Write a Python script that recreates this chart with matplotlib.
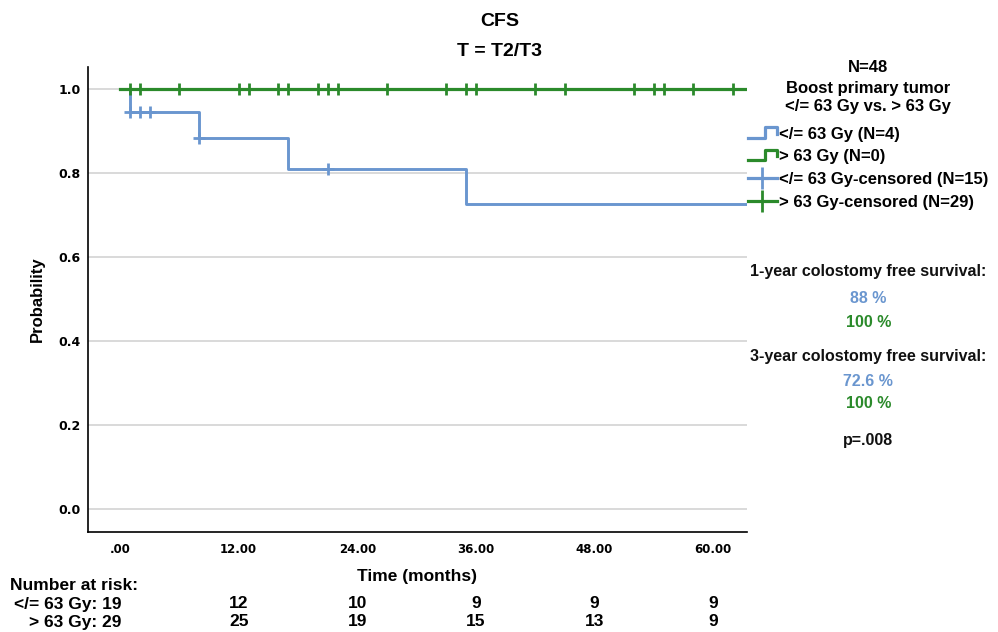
import matplotlib
matplotlib.use("Agg")
import matplotlib.pyplot as plt
from matplotlib.lines import Line2D
from matplotlib.legend_handler import HandlerBase
from matplotlib.transforms import blended_transform_factory

# ---- data ----
blue_times = [0, 1, 8, 17, 35, 63.4]
blue_surv = [1.0, 0.947, 0.884, 0.810, 0.726, 0.726]
blue_cens_t = [1, 2, 3, 8, 21]
blue_cens_s = [0.947, 0.947, 0.947, 0.884, 0.810]

green_times = [0, 63.4]
green_surv = [1.0, 1.0]
green_cens_t = [1, 2, 6, 12, 13, 16, 17, 20, 21, 22, 27, 33, 35, 36,
                42, 45, 52, 54, 55, 58, 62]
green_cens_s = [1.0] * len(green_cens_t)

xticks = [0, 12, 24, 36, 48, 60]
xtick_labels = [".00", "12.00", "24.00", "36.00", "48.00", "60.00"]
yticks = [0.0, 0.2, 0.4, 0.6, 0.8, 1.0]

risk_low = [19, 12, 10, 9, 9, 9]
risk_high = [29, 25, 19, 15, 13, 9]

legend_title = ["N=48", "Boost primary tumor", "</= 63 Gy vs. > 63 Gy"]
legend_labels = ["</= 63 Gy (N=4)", "> 63 Gy (N=0)",
                 "</= 63 Gy-censored (N=15)", "> 63 Gy-censored (N=29)"]

BLUE = "#6a96cf"
GREEN = "#2b8a2b"
BOLD = "Liberation Sans"
NARROW = ["Liberation Sans Narrow", "Liberation Sans"]

fig = plt.figure(figsize=(9.98, 6.32), dpi=100)
ax = fig.add_axes([0.0877, 0.1578, 0.6605, 0.7367])

for y in yticks:
    ax.axhline(y, color="#d3d3d3", lw=1.2, zorder=0)

ax.step(blue_times, blue_surv, where="post", color=BLUE, lw=2.1, zorder=3)
ax.step(green_times, green_surv, where="post", color=GREEN, lw=2.3, zorder=4)
ax.plot(blue_cens_t, blue_cens_s, ls="none", marker="+", ms=9, mew=2,
        color=BLUE, zorder=3)
ax.plot(green_cens_t, green_cens_s, ls="none", marker="+", ms=9, mew=2,
        color=GREEN, zorder=4)

ax.set_xlim(-3.3, 63.4)
ax.set_ylim(-0.055, 1.054)
ax.set_xticks(xticks)
ax.set_xticklabels(xtick_labels, fontsize=8.5, fontweight="bold", family="DejaVu Sans")
ax.set_yticks(yticks)
ax.set_yticklabels([f"{v:.1f}" for v in yticks], fontsize=9, fontweight="bold",
                   family="DejaVu Sans")
ax.tick_params(length=0)
ax.tick_params(axis="x", pad=8)
ax.tick_params(axis="y", pad=5)
for s in ["top", "right"]:
    ax.spines[s].set_visible(False)
for s in ["left", "bottom"]:
    ax.spines[s].set_linewidth(1.2)
ax.set_ylabel("Probability", fontsize=12, fontweight="bold", family=BOLD, labelpad=10)

fig.text(0.501, 1 - 21 / 632, "CFS", ha="center", va="center", fontsize=14,
         fontweight="bold", family=BOLD)
fig.text(0.501, 1 - 52 / 632, "T = T2/T3", ha="center", va="center", fontsize=14,
         fontweight="bold", family=BOLD)

fig.text(0.418, 1 - 577 / 632, "Time (months)", ha="center", va="center", fontsize=12.5,
         fontweight="bold", family=NARROW)

# number at risk
tr = blended_transform_factory(ax.transData, fig.transFigure)
fig.text(0.010, 1 - 585 / 632, "Number at risk:", ha="left", va="center", fontsize=12.5,
         fontweight="bold", family=NARROW)
ax.text(0.15, 1 - 604 / 632, f"</= 63 Gy: {risk_low[0]}", transform=tr, ha="right",
        va="center", fontsize=12.5, fontweight="bold", family=NARROW)
ax.text(0.15, 1 - 622 / 632, f"> 63 Gy: {risk_high[0]}", transform=tr, ha="right",
        va="center", fontsize=12.5, fontweight="bold", family=NARROW)
for t, a, b in zip(xticks[1:], risk_low[1:], risk_high[1:]):
    ax.text(t, 1 - 604 / 632, str(a), transform=tr, ha="center", va="center",
            fontsize=12.5, fontweight="bold", family=NARROW, clip_on=False)
    ax.text(t, 1 - 622 / 632, str(b), transform=tr, ha="center", va="center",
            fontsize=12.5, fontweight="bold", family=NARROW, clip_on=False)


class StepHandler(HandlerBase):
    def __init__(self, color):
        super().__init__()
        self.color = color

    def create_artists(self, legend, orig_handle, xdescent, ydescent, width,
                       height, fontsize, trans):
        x0, y0 = -xdescent, -ydescent
        xs = [x0, x0 + 0.6 * width, x0 + 0.6 * width, x0 + width, x0 + width]
        ys = [y0 + 0.1 * height, y0 + 0.1 * height, y0 + 1.0 * height,
              y0 + 1.0 * height, y0 + 0.45 * height]
        ln = Line2D(xs, ys, color=self.color, lw=2.3, transform=trans)
        return [ln]


# legend title lines
for txt, ypix in zip(legend_title, [68, 88, 106]):
    fig.text(0.870, 1 - ypix / 632, txt, ha="center", va="center", fontsize=12,
             fontweight="bold", family=BOLD)

h1 = Line2D([], [], color=BLUE)
h2 = Line2D([], [], color=GREEN)
h3 = Line2D([], [], color=BLUE, lw=2.3, marker="+", ms=16, mew=2)
h4 = Line2D([], [], color=GREEN, lw=2.3, marker="+", ms=16, mew=2)
leg = fig.legend([h1, h2, h3, h4], legend_labels,
                 handler_map={h1: StepHandler(BLUE), h2: StepHandler(GREEN)},
                 loc="upper left", bbox_to_anchor=(0.749, 1 - 127 / 632),
                 frameon=False, handlelength=1.75, handletextpad=0.15,
                 labelspacing=0.45, borderaxespad=0, borderpad=0,
                 prop={"family": BOLD, "weight": "bold", "size": 12})

notes = [
    ("1-year colostomy free survival:", 271, "#111111"),
    ("88 %", 298, BLUE),
    ("100 %", 322, GREEN),
    ("3-year colostomy free survival:", 356, "#111111"),
    ("72.6 %", 381, BLUE),
    ("100 %", 403, GREEN),
    ("p=.008", 441, "#111111"),
]
for txt, ypix, col in notes:
    fig.text(0.870, 1 - ypix / 632, txt, ha="center", va="center", fontsize=11.5,
             fontweight="bold", family=BOLD, color=col)

fig.savefig("out.png", dpi=100)
